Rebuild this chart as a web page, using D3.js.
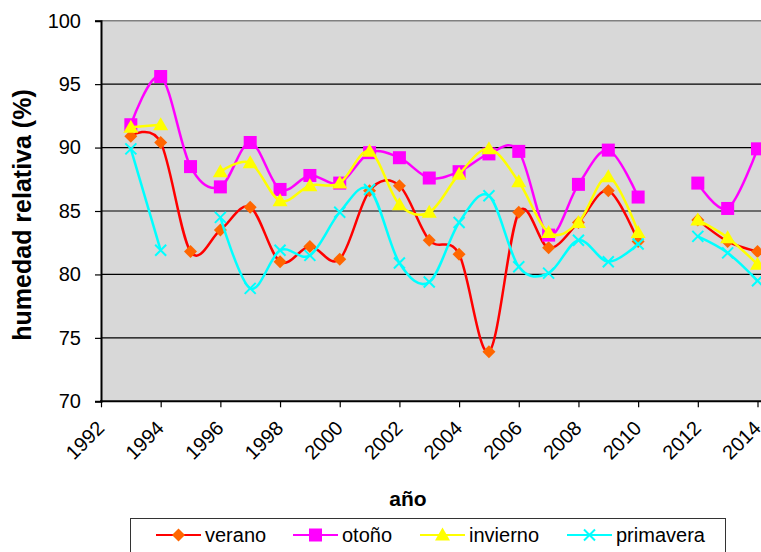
<!DOCTYPE html>
<html>
<head>
<meta charset="utf-8">
<script src="https://cdn.jsdelivr.net/npm/d3@7"></script>
<style>
  html, body { margin: 0; padding: 0; background: #ffffff; }
  svg { display: block; font-family: "Liberation Sans", Arial, sans-serif; }
</style>
</head>
<body>
<svg id="chart" width="761" height="552"></svg>
<script>
// Humedad relativa estacional por año (2011 sin datos)
const years = [1993, 1994, 1995, 1996, 1997, 1998, 1999, 2000, 2001, 2002, 2003,
               2004, 2005, 2006, 2007, 2008, 2009, 2010, 2011, 2012, 2013, 2014];
const verano    = [90.9, 90.4, 81.8, 83.5, 85.3, 81.0, 82.2, 81.2, 86.6, 87.0, 82.7,
                   81.6, 73.9, 84.9, 82.1, 84.1, 86.6, 82.6, null, 84.3, 82.6, 81.8];
const otono     = [91.8, 95.6, 88.5, 86.9, 90.4, 86.7, 87.8, 87.2, 89.6, 89.2, 87.6,
                   88.1, 89.5, 89.7, 83.1, 87.1, 89.8, 86.1, null, 87.2, 85.2, 89.9];
const invierno  = [91.6, 91.8, null, 88.1, 88.8, 85.8, 87.0, 87.2, 89.7, 85.5, 84.9,
                   87.9, 89.9, 87.3, 83.3, 84.1, 87.7, 83.3, null, 84.3, 82.9, 80.8];
const primavera = [89.9, 81.9, null, 84.5, 78.9, 81.9, 81.5, 84.9, 86.7, 80.9, 79.4,
                   84.1, 86.2, 80.6, 80.1, 82.7, 81.0, 82.4, null, 83.0, 81.7, 79.5];
const xTicks = [1992, 1994, 1996, 1998, 2000, 2002, 2004, 2006, 2008, 2010, 2012, 2014];
const yTicks = [70, 75, 80, 85, 90, 95, 100];

const series = [
  { name: "verano",    values: verano,    line: "#ff0000", fill: "#ff6600", marker: "diamond" },
  { name: "otoño",     values: otono,     line: "#ff00ff", fill: "#ff00ff", marker: "square" },
  { name: "invierno",  values: invierno,  line: "#ffff00", fill: "#ffff00", marker: "triangle" },
  { name: "primavera", values: primavera, line: "#00ffff", fill: "#00ffff", marker: "cross" }
];

const svg = d3.select("#chart");
const W = 761;
const plot = { left: 101, top: 20.7, bottom: 401.3, right: 761 };

const x = d3.scaleLinear().domain([1992, 2014]).range([plot.left, 757.5]);
const y = d3.scaleLinear().domain([70, 100]).range([plot.bottom, plot.top]);

// plot area
svg.append("rect")
  .attr("x", plot.left).attr("y", plot.top)
  .attr("width", plot.right - plot.left + 5).attr("height", plot.bottom - plot.top)
  .attr("fill", "#d8d8d8");
svg.append("line")
  .attr("x1", plot.left).attr("x2", W).attr("y1", plot.top).attr("y2", plot.top)
  .attr("stroke", "#808080").attr("stroke-width", 1.5);

// gridlines
svg.append("g").selectAll("line")
  .data(yTicks.filter(t => t > 70 && t < 100))
  .join("line")
  .attr("x1", plot.left).attr("x2", W)
  .attr("y1", d => y(d)).attr("y2", d => y(d))
  .attr("stroke", "#000").attr("stroke-width", 1.2);

// y axis
const yAxis = svg.append("g")
  .attr("transform", `translate(${plot.left},0)`)
  .call(d3.axisLeft(y).tickValues(yTicks).tickSize(6).tickPadding(14).tickFormat(d3.format("d")));
yAxis.select(".domain").attr("stroke", "#000").attr("stroke-width", 2);
yAxis.selectAll(".tick line").attr("stroke", "#000").attr("stroke-width", 1.2);
yAxis.selectAll(".tick text")
  .attr("font-size", 20).attr("fill", "#000")
  .attr("font-family", "'Liberation Sans', Arial, sans-serif");

// x axis
const xAxis = svg.append("g")
  .attr("transform", `translate(0,${plot.bottom})`)
  .call(d3.axisBottom(x).tickValues(xTicks).tickSize(6).tickFormat(d3.format("d")));
xAxis.select(".domain").remove();
xAxis.append("line")
  .attr("x1", plot.left - 1).attr("x2", W).attr("y1", 0).attr("y2", 0)
  .attr("stroke", "#000").attr("stroke-width", 2);
xAxis.selectAll(".tick line").attr("stroke", "#000").attr("stroke-width", 1.2);
xAxis.selectAll(".tick text")
  .attr("font-size", 20).attr("fill", "#000")
  .attr("font-family", "'Liberation Sans', Arial, sans-serif")
  .attr("text-anchor", "end")
  .attr("dy", null).attr("y", null)
  .attr("transform", "translate(4,28) rotate(-45)");

// axis titles
svg.append("text")
  .attr("transform", `translate(31,${(plot.top + plot.bottom) / 2 + 4}) rotate(-90)`)
  .attr("text-anchor", "middle")
  .attr("font-size", 25).attr("font-weight", "bold")
  .text("humedad relativa (%)");
svg.append("text")
  .attr("x", 408).attr("y", 506)
  .attr("text-anchor", "middle")
  .attr("font-size", 21).attr("font-weight", "bold")
  .text("año");

// marker drawing
function drawMarker(g, type, color) {
  if (type === "diamond") {
    g.append("path").attr("d", "M0,-6.5L6.5,0L0,6.5L-6.5,0Z").attr("fill", color);
  } else if (type === "square") {
    g.append("rect").attr("x", -6.5).attr("y", -6.5).attr("width", 13).attr("height", 13).attr("fill", color);
  } else if (type === "triangle") {
    g.append("path").attr("d", "M0,-7.5L7.5,5.5L-7.5,5.5Z").attr("fill", color);
  } else if (type === "cross") {
    g.append("path").attr("d", "M-5.5,-5.5L5.5,5.5M-5.5,5.5L5.5,-5.5")
      .attr("stroke", color).attr("stroke-width", 2).attr("fill", "none");
  }
}

const line = d3.line()
  .defined(d => d.v != null)
  .x(d => x(d.year))
  .y(d => y(d.v))
  .curve(d3.curveCardinal.tension(0));

const clip = svg.append("clipPath").attr("id", "plotclip")
  .append("rect").attr("x", plot.left).attr("y", 0).attr("width", W).attr("height", plot.bottom);

series.forEach(s => {
  const pts = years.map((yr, i) => ({ year: yr, v: s.values[i] }));
  const g = svg.append("g").attr("clip-path", "url(#plotclip)");
  g.append("path")
    .attr("d", line(pts))
    .attr("fill", "none")
    .attr("stroke", s.line)
    .attr("stroke-width", 2.5);
  pts.filter(p => p.v != null).forEach(p => {
    const m = g.append("g").attr("transform", `translate(${x(p.year)},${y(p.v)})`);
    drawMarker(m, s.marker, s.fill);
  });
});

// legend
const legend = svg.append("g");
legend.append("rect")
  .attr("x", 130.5).attr("y", 518.5).attr("width", 595).attr("height", 50)
  .attr("fill", "#fff").attr("stroke", "#333").attr("stroke-width", 1);
const legendX = [156, 293, 420, 567];
series.forEach((s, i) => {
  const lx = legendX[i];
  const ly = 535;
  legend.append("line")
    .attr("x1", lx).attr("x2", lx + 45).attr("y1", ly).attr("y2", ly)
    .attr("stroke", s.line).attr("stroke-width", 2);
  const m = legend.append("g").attr("transform", `translate(${lx + 22.5},${ly})`);
  drawMarker(m, s.marker, s.fill);
  legend.append("text")
    .attr("x", lx + 49).attr("y", ly + 7)
    .attr("font-size", 20).attr("fill", "#000")
    .text(s.name);
});
</script>
</body>
</html>
